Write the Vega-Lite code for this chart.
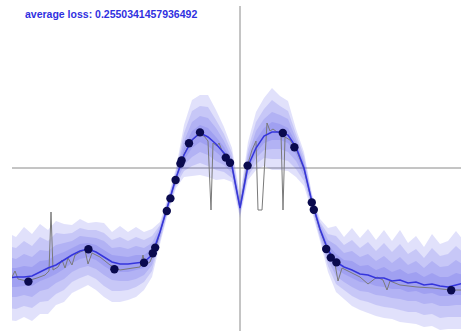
{
  "$schema": "https://vega.github.io/schema/vega-lite/v6.json",
  "width": 449,
  "height": 325,
  "autosize": "none",
  "padding": {"left": 12, "top": 6, "right": 0, "bottom": 0},
  "background": "white",
  "config": {"view": {"stroke": null}},
  "datasets": {
    "one": [{}],
    "grid": [
      {"x":-5.8,"m":-2.75,"h1":-1.625,"h2":-1.95,"h3":-2.225,"h4":-2.5,"l1":-3.8,"l2":-3.5,"l3":-3.225,"l4":-2.975},
      {"x":-5.6,"m":-2.725,"h1":-1.725,"h2":-2.0,"h3":-2.275,"h4":-2.5,"l1":-3.825,"l2":-3.525,"l3":-3.225,"l4":-2.975},
      {"x":-5.4,"m":-2.725,"h1":-1.475,"h2":-1.825,"h3":-2.15,"h4":-2.45,"l1":-3.725,"l2":-3.45,"l3":-3.175,"l4":-2.95},
      {"x":-5.2,"m":-2.7,"h1":-1.65,"h2":-1.95,"h3":-2.225,"h4":-2.475,"l1":-3.825,"l2":-3.5,"l3":-3.225,"l4":-2.95},
      {"x":-5.0,"m":-2.6,"h1":-1.4,"h2":-1.725,"h3":-2.05,"h4":-2.325,"l1":-3.65,"l2":-3.35,"l3":-3.075,"l4":-2.825},
      {"x":-4.8,"m":-2.5,"h1":-1.55,"h2":-1.825,"h3":-2.075,"h4":-2.3,"l1":-3.65,"l2":-3.325,"l3":-3.025,"l4":-2.75},
      {"x":-4.6,"m":-2.425,"h1":-1.325,"h2":-1.625,"h3":-1.925,"h4":-2.175,"l1":-3.425,"l2":-3.15,"l3":-2.875,"l4":-2.65},
      {"x":-4.4,"m":-2.3,"h1":-1.4,"h2":-1.65,"h3":-1.875,"h4":-2.1,"l1":-3.35,"l2":-3.05,"l3":-2.775,"l4":-2.525},
      {"x":-4.2,"m":-2.175,"h1":-1.425,"h2":-1.625,"h3":-1.825,"h4":-2.0,"l1":-3.125,"l2":-2.85,"l3":-2.6,"l4":-2.375},
      {"x":-4.0,"m":-2.075,"h1":-1.275,"h2":-1.5,"h3":-1.7,"h4":-1.9,"l1":-3.025,"l2":-2.75,"l3":-2.5,"l4":-2.275},
      {"x":-3.8,"m":-2.025,"h1":-1.375,"h2":-1.55,"h3":-1.725,"h4":-1.875,"l1":-2.925,"l2":-2.675,"l3":-2.45,"l4":-2.225},
      {"x":-3.6,"m":-2.1,"h1":-1.35,"h2":-1.55,"h3":-1.75,"h4":-1.925,"l1":-3.05,"l2":-2.775,"l3":-2.525,"l4":-2.3},
      {"x":-3.4,"m":-2.225,"h1":-1.375,"h2":-1.625,"h3":-1.825,"h4":-2.05,"l1":-3.225,"l2":-2.95,"l3":-2.675,"l4":-2.45},
      {"x":-3.2,"m":-2.35,"h1":-1.6,"h2":-1.8,"h3":-2.0,"h4":-2.175,"l1":-3.35,"l2":-3.075,"l3":-2.8,"l4":-2.575},
      {"x":-3.0,"m":-2.4,"h1":-1.45,"h2":-1.725,"h3":-1.975,"h4":-2.2,"l1":-3.35,"l2":-3.075,"l3":-2.825,"l4":-2.6},
      {"x":-2.8,"m":-2.4,"h1":-1.6,"h2":-1.825,"h3":-2.025,"h4":-2.225,"l1":-3.3,"l2":-3.05,"l3":-2.825,"l4":-2.6},
      {"x":-2.6,"m":-2.375,"h1":-1.475,"h2":-1.725,"h3":-1.95,"h4":-2.175,"l1":-3.225,"l2":-2.975,"l3":-2.775,"l4":-2.55},
      {"x":-2.4,"m":-2.35,"h1":-1.6,"h2":-1.8,"h3":-2.0,"h4":-2.175,"l1":-3.05,"l2":-2.85,"l3":-2.675,"l4":-2.5},
      {"x":-2.2,"m":-2.175,"h1":-1.525,"h2":-1.7,"h3":-1.875,"h4":-2.025,"l1":-2.725,"l2":-2.575,"l3":-2.425,"l4":-2.3},
      {"x":-2.0,"m":-1.6,"h1":-1.35,"h2":-1.425,"h3":-1.475,"h4":-1.55,"l1":-1.9,"l2":-1.825,"l3":-1.75,"l4":-1.675},
      {"x":-1.8,"m":-0.925,"h1":-0.725,"h2":-0.775,"h3":-0.825,"h4":-0.875,"l1":-1.125,"l2":-1.075,"l3":-1.025,"l4":-0.975},
      {"x":-1.6,"m":-0.25,"h1":0.0,"h2":-0.075,"h3":-0.125,"h4":-0.2,"l1":-0.5,"l2":-0.425,"l3":-0.375,"l4":-0.3},
      {"x":-1.4,"m":0.325,"h1":1.075,"h2":0.875,"h3":0.675,"h4":0.5,"l1":-0.225,"l2":-0.075,"l3":0.075,"l4":0.2},
      {"x":-1.2,"m":0.7,"h1":1.7,"h2":1.425,"h3":1.15,"h4":0.925,"l1":-0.2,"l2":0.05,"l3":0.275,"l4":0.5},
      {"x":-1.0,"m":0.875,"h1":1.825,"h2":1.55,"h3":1.3,"h4":1.075,"l1":-0.175,"l2":0.125,"l3":0.4,"l4":0.65},
      {"x":-0.8,"m":0.775,"h1":1.825,"h2":1.525,"h3":1.25,"h4":1.0,"l1":-0.225,"l2":0.05,"l3":0.325,"l4":0.55},
      {"x":-0.6,"m":0.6,"h1":1.45,"h2":1.2,"h3":1.0,"h4":0.775,"l1":-0.3,"l2":-0.05,"l3":0.175,"l4":0.4},
      {"x":-0.4,"m":0.375,"h1":1.025,"h2":0.85,"h3":0.675,"h4":0.525,"l1":-0.275,"l2":-0.1,"l3":0.075,"l4":0.225},
      {"x":-0.2,"m":0.05,"h1":0.5,"h2":0.375,"h3":0.25,"h4":0.15,"l1":-0.35,"l2":-0.25,"l3":-0.125,"l4":-0.05},
      {"x":0.0,"m":-1.0,"h1":-0.7,"h2":-0.775,"h3":-0.85,"h4":-0.925,"l1":-1.25,"l2":-1.175,"l3":-1.125,"l4":-1.05},
      {"x":0.2,"m":0.05,"h1":0.65,"h2":0.475,"h3":0.325,"h4":0.175,"l1":-0.3,"l2":-0.2,"l3":-0.1,"l4":-0.025},
      {"x":0.4,"m":0.5,"h1":1.4,"h2":1.15,"h3":0.925,"h4":0.7,"l1":-0.05,"l2":0.1,"l3":0.25,"l4":0.375},
      {"x":0.6,"m":0.8,"h1":1.75,"h2":1.475,"h3":1.225,"h4":1.0,"l1":0.05,"l2":0.25,"l3":0.45,"l4":0.625},
      {"x":0.8,"m":0.9,"h1":2.0,"h2":1.7,"h3":1.4,"h4":1.15,"l1":-0.05,"l2":0.225,"l3":0.475,"l4":0.7},
      {"x":1.0,"m":0.9,"h1":1.8,"h2":1.55,"h3":1.325,"h4":1.1,"l1":-0.05,"l2":0.225,"l3":0.475,"l4":0.7},
      {"x":1.2,"m":0.825,"h1":1.675,"h2":1.425,"h3":1.225,"h4":1.0,"l1":-0.075,"l2":0.175,"l3":0.4,"l4":0.625},
      {"x":1.4,"m":0.525,"h1":0.975,"h2":0.85,"h3":0.725,"h4":0.625,"l1":-0.225,"l2":-0.025,"l3":0.175,"l4":0.35},
      {"x":1.6,"m":0.0,"h1":0.4,"h2":0.3,"h3":0.175,"h4":0.1,"l1":-0.45,"l2":-0.325,"l3":-0.2,"l4":-0.1},
      {"x":1.8,"m":-0.85,"h1":-0.65,"h2":-0.7,"h3":-0.75,"h4":-0.8,"l1":-1.1,"l2":-1.025,"l3":-0.975,"l4":-0.9},
      {"x":2.0,"m":-1.525,"h1":-1.275,"h2":-1.35,"h3":-1.4,"h4":-1.475,"l1":-1.825,"l2":-1.75,"l3":-1.675,"l4":-1.6},
      {"x":2.2,"m":-2.05,"h1":-1.5,"h2":-1.65,"h3":-1.8,"h4":-1.925,"l1":-2.6,"l2":-2.45,"l3":-2.3,"l4":-2.175},
      {"x":2.4,"m":-2.35,"h1":-1.45,"h2":-1.7,"h3":-1.925,"h4":-2.15,"l1":-3.1,"l2":-2.9,"l3":-2.7,"l4":-2.525},
      {"x":2.6,"m":-2.475,"h1":-1.725,"h2":-1.925,"h3":-2.125,"h4":-2.3,"l1":-3.275,"l2":-3.05,"l3":-2.85,"l4":-2.65},
      {"x":2.8,"m":-2.55,"h1":-1.5,"h2":-1.8,"h3":-2.075,"h4":-2.325,"l1":-3.45,"l2":-3.2,"l3":-2.975,"l4":-2.75},
      {"x":3.0,"m":-2.65,"h1":-1.75,"h2":-2.0,"h3":-2.225,"h4":-2.45,"l1":-3.55,"l2":-3.3,"l3":-3.075,"l4":-2.85},
      {"x":3.2,"m":-2.675,"h1":-1.525,"h2":-1.85,"h3":-2.15,"h4":-2.425,"l1":-3.625,"l2":-3.35,"l3":-3.1,"l4":-2.875},
      {"x":3.4,"m":-2.75,"h1":-1.8,"h2":-2.075,"h3":-2.325,"h4":-2.55,"l1":-3.7,"l2":-3.425,"l3":-3.175,"l4":-2.95},
      {"x":3.6,"m":-2.75,"h1":-1.55,"h2":-1.875,"h3":-2.2,"h4":-2.475,"l1":-3.75,"l2":-3.475,"l3":-3.2,"l4":-2.975},
      {"x":3.8,"m":-2.825,"h1":-1.825,"h2":-2.1,"h3":-2.375,"h4":-2.6,"l1":-3.775,"l2":-3.5,"l3":-3.25,"l4":-3.025},
      {"x":4.0,"m":-2.8,"h1":-1.55,"h2":-1.9,"h3":-2.225,"h4":-2.525,"l1":-3.85,"l2":-3.55,"l3":-3.275,"l4":-3.025},
      {"x":4.2,"m":-2.875,"h1":-1.875,"h2":-2.15,"h3":-2.425,"h4":-2.65,"l1":-3.875,"l2":-3.6,"l3":-3.325,"l4":-3.1},
      {"x":4.4,"m":-2.85,"h1":-1.7,"h2":-2.025,"h3":-2.325,"h4":-2.6,"l1":-3.9,"l2":-3.6,"l3":-3.325,"l4":-3.075},
      {"x":4.6,"m":-2.925,"h1":-1.975,"h2":-2.25,"h3":-2.5,"h4":-2.725,"l1":-3.975,"l2":-3.675,"l3":-3.4,"l4":-3.15},
      {"x":4.8,"m":-2.9,"h1":-1.65,"h2":-2.0,"h3":-2.325,"h4":-2.625,"l1":-3.95,"l2":-3.65,"l3":-3.375,"l4":-3.125},
      {"x":5.0,"m":-2.95,"h1":-1.9,"h2":-2.2,"h3":-2.475,"h4":-2.725,"l1":-4.05,"l2":-3.75,"l3":-3.45,"l4":-3.2},
      {"x":5.2,"m":-2.975,"h1":-1.825,"h2":-2.15,"h3":-2.45,"h4":-2.725,"l1":-4.025,"l2":-3.725,"l3":-3.45,"l4":-3.2},
      {"x":5.4,"m":-2.925,"h1":-1.575,"h2":-1.95,"h3":-2.3,"h4":-2.625,"l1":-4.025,"l2":-3.725,"l3":-3.425,"l4":-3.175},
      {"x":5.6,"m":-2.875,"h1":-1.825,"h2":-2.125,"h3":-2.425,"h4":-2.675,"l1":-4.025,"l2":-3.725,"l3":-3.425,"l4":-3.175}
    ],
    "gray": [
      {"x":-5.8,"g":-2.6},{"x":-5.7,"g":-2.725},{"x":-5.625,"g":-2.575},{"x":-5.55,"g":-2.775},
      {"x":-5.325,"g":-2.825},{"x":-5.075,"g":-2.75},{"x":-4.875,"g":-2.675},{"x":-4.775,"g":-2.575},
      {"x":-4.725,"g":-1.1},{"x":-4.675,"g":-2.55},{"x":-4.55,"g":-2.475},{"x":-4.45,"g":-2.3},
      {"x":-4.375,"g":-2.5},{"x":-4.3,"g":-2.25},{"x":-4.2,"g":-2.425},{"x":-4.125,"g":-2.175},
      {"x":-4.0,"g":-2.1},{"x":-3.875,"g":-2.05},{"x":-3.8,"g":-2.4},{"x":-3.7,"g":-2.125},
      {"x":-3.5,"g":-2.225},{"x":-3.25,"g":-2.425},{"x":-3.0,"g":-2.55},{"x":-2.675,"g":-2.5},
      {"x":-2.5,"g":-2.475},{"x":-2.425,"g":-2.175},{"x":-2.375,"g":-2.425},{"x":-2.25,"g":-2.35},
      {"x":-2.125,"g":-2.05},{"x":-2.0,"g":-1.6},{"x":-1.8,"g":-0.925},{"x":-1.6,"g":-0.25},
      {"x":-1.4,"g":0.35},{"x":-1.2,"g":0.7},{"x":-1.075,"g":0.8},{"x":-1.0,"g":0.825},
      {"x":-0.9,"g":0.8},{"x":-0.8,"g":0.675},{"x":-0.725,"g":-1.05},{"x":-0.675,"g":0.625},
      {"x":-0.575,"g":0.55},{"x":-0.525,"g":0.625},{"x":-0.45,"g":0.425},{"x":-0.325,"g":0.2},
      {"x":-0.2,"g":0.025},{"x":0.0,"g":-1.0},{"x":0.175,"g":0.025},{"x":0.3,"g":0.45},
      {"x":0.4,"g":0.675},{"x":0.45,"g":-1.05},{"x":0.55,"g":-1.05},{"x":0.675,"g":1.125},
      {"x":0.75,"g":0.925},{"x":0.825,"g":0.975},{"x":0.925,"g":0.9},{"x":1.025,"g":0.875},
      {"x":1.075,"g":-1.05},{"x":1.125,"g":0.775},{"x":1.25,"g":0.7},{"x":1.4,"g":0.475},
      {"x":1.6,"g":-0.025},{"x":1.8,"g":-0.875},{"x":2.0,"g":-1.55},{"x":2.2,"g":-2.075},
      {"x":2.375,"g":-2.4},{"x":2.45,"g":-2.825},{"x":2.55,"g":-2.5},{"x":2.75,"g":-2.6},
      {"x":3.0,"g":-2.725},{"x":3.2,"g":-2.9},{"x":3.425,"g":-2.725},{"x":3.575,"g":-2.8},
      {"x":3.675,"g":-3.05},{"x":3.75,"g":-2.825},{"x":4.0,"g":-2.925},{"x":4.425,"g":-2.975},
      {"x":4.825,"g":-3.0},{"x":5.25,"g":-3.05},{"x":5.625,"g":-3.05}
    ],
    "pts": [
      {"x":-5.29,"y":-2.84},{"x":-3.79,"y":-2.03},{"x":-3.14,"y":-2.53},{"x":-2.4,"y":-2.37},
      {"x":-2.18,"y":-2.13},{"x":-2.12,"y":-1.99},{"x":-1.83,"y":-1.075},{"x":-1.74,"y":-0.76},
      {"x":-1.61,"y":-0.3},{"x":-1.49,"y":0.11},{"x":-1.46,"y":0.19},{"x":-1.275,"y":0.62},
      {"x":-1.0,"y":0.89},{"x":-0.355,"y":0.26},{"x":-0.25,"y":0.13},{"x":0.19,"y":0.06},
      {"x":1.07,"y":0.875},{"x":1.36,"y":0.52},{"x":1.795,"y":-0.86},{"x":1.845,"y":-1.045},
      {"x":2.155,"y":-2.025},{"x":2.27,"y":-2.24},{"x":2.41,"y":-2.36},{"x":5.28,"y":-3.055}
    ]
  },
  "layer": [
    {"data": {"name": "one"}, "mark": {"type": "rule", "color": "#8a8a8a", "strokeWidth": 1}, "encoding": {"y": {"datum": 0, "type": "quantitative", "scale": {"domain": [-4.075, 4.05], "nice": false, "zero": false}, "axis": null}}},
    {"data": {"name": "one"}, "mark": {"type": "rule", "color": "#8a8a8a", "strokeWidth": 1}, "encoding": {"x": {"datum": 0, "type": "quantitative", "scale": {"domain": [-5.7, 5.525], "nice": false, "zero": false}, "axis": null}}},
    {"data": {"name": "grid"}, "mark": {"type": "area", "color": "#4646e6", "opacity": 0.16, "clip": true},
     "encoding": {"x": {"field": "x", "type": "quantitative", "axis": null}, "y": {"field": "h1", "type": "quantitative", "axis": null}, "y2": {"field": "l1"}}},
    {"data": {"name": "grid"}, "mark": {"type": "area", "color": "#4646e6", "opacity": 0.16, "clip": true},
     "encoding": {"x": {"field": "x", "type": "quantitative"}, "y": {"field": "h2", "type": "quantitative"}, "y2": {"field": "l2"}}},
    {"data": {"name": "grid"}, "mark": {"type": "area", "color": "#4646e6", "opacity": 0.16, "clip": true},
     "encoding": {"x": {"field": "x", "type": "quantitative"}, "y": {"field": "h3", "type": "quantitative"}, "y2": {"field": "l3"}}},
    {"data": {"name": "grid"}, "mark": {"type": "area", "color": "#4646e6", "opacity": 0.16, "clip": true},
     "encoding": {"x": {"field": "x", "type": "quantitative"}, "y": {"field": "h4", "type": "quantitative"}, "y2": {"field": "l4"}}},
    {"data": {"name": "gray"}, "mark": {"type": "line", "color": "#7a7a7a", "strokeWidth": 1, "clip": true},
     "encoding": {"x": {"field": "x", "type": "quantitative"}, "y": {"field": "g", "type": "quantitative"}}},
    {"data": {"name": "grid"}, "mark": {"type": "line", "color": "#3535dc", "strokeWidth": 1.5, "clip": true},
     "encoding": {"x": {"field": "x", "type": "quantitative"}, "y": {"field": "m", "type": "quantitative"}}},
    {"data": {"name": "pts"}, "mark": {"type": "circle", "color": "#0a0a4e", "opacity": 1, "size": 70, "clip": true},
     "encoding": {"x": {"field": "x", "type": "quantitative"}, "y": {"field": "y", "type": "quantitative"}}},
    {"data": {"name": "one"}, "mark": {"type": "text", "text": "average loss: 0.2550341457936492", "align": "left", "baseline": "middle", "font": "Liberation Sans", "fontWeight": "bold", "fontSize": 10.5, "color": "#3030e0"},
     "encoding": {"x": {"datum": -5.375, "type": "quantitative"}, "y": {"datum": 3.825, "type": "quantitative"}}}
  ]
}
